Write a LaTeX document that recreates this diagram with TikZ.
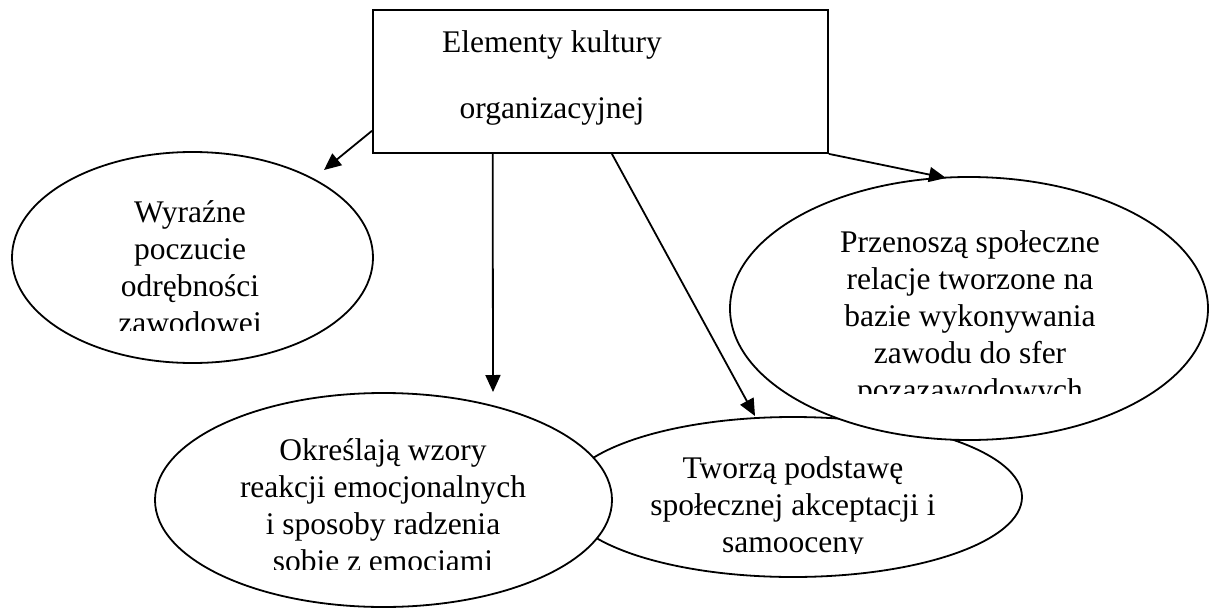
\documentclass[tikz,border=0pt]{standalone}
\usepackage{fontspec}
\setmainfont{Liberation Serif}
\usetikzlibrary{shapes.geometric,arrows.meta,calc}
\begin{document}
\begin{tikzpicture}[x=1pt,y=-1pt,
  ell/.style={ellipse,draw,fill=white,line width=1.8pt,inner sep=0pt},
  lbl/.style={align=center,anchor=base,inner sep=0pt,font=\fontsize{31.5}{37}\selectfont},
  boxst/.style={rectangle,draw,fill=white,line width=1.8pt,inner sep=0pt},
  arr/.style={line width=1.8pt,-{Triangle[length=17pt,width=15pt]}}]
\useasboundingbox (0,0) rectangle (1210,610);
% ellipse 4 (bottom layer)
\node[ell,minimum width=458,minimum height=160] (e4) at (793,497) {};
\begin{scope}
\clip (560,420) rectangle (1030,553);
\node[lbl] (t4) at (793,552) {Tworzą podstawę\\społecznej akceptacji i\\samooceny};
\end{scope}
% ellipse 2
\node[ell,minimum width=478,minimum height=263] (e2) at (969,308.5) {};
\begin{scope}
\clip (730,180) rectangle (1208,393);
\node[lbl] (t2) at (970,400) {Przenoszą społeczne\\relacje tworzone na\\bazie wykonywania\\zawodu do sfer\\pozazawodowych};
\end{scope}
% ellipse 3
\node[ell,minimum width=457,minimum height=214] (e3) at (383.5,500) {};
\begin{scope}
\clip (155,395) rectangle (612,569);
\node[lbl] (t3) at (383,571) {Określają wzory\\reakcji emocjonalnych\\i sposoby radzenia\\sobie z emocjami};
\end{scope}
% ellipse 1
\node[ell,minimum width=361,minimum height=211] (e1) at (192.5,257.5) {};
\begin{scope}
\clip (12,155) rectangle (373,330);
\node[lbl] (t1) at (190,333) {Wyraźne\\poczucie\\odrębności\\zawodowej};
\end{scope}
% central box
\node[boxst,minimum width=455,minimum height=143] (box) at (600.5,81.5) {};
\node[lbl,font=\fontsize{31.5}{66}\selectfont] (bt) at (552,118) {Elementy kultury\\organizacyjnej};
% arrow ends
\coordinate (a1) at (324,170);
\coordinate (a2) at (493,392);
\coordinate (a3) at (755,416);
\coordinate (a4) at (946,178);
\draw[arr] ($(box.south west)!0.16!(box.north west)$) -- (a1);
\draw[arr] ($(box.south west)!0.264!(box.south east)$) -- (a2);
\draw[arr] ($(box.south west)!0.525!(box.south east)$) -- (a3);
\draw[arr] (box.south east) -- (a4);
\end{tikzpicture}
\end{document}
